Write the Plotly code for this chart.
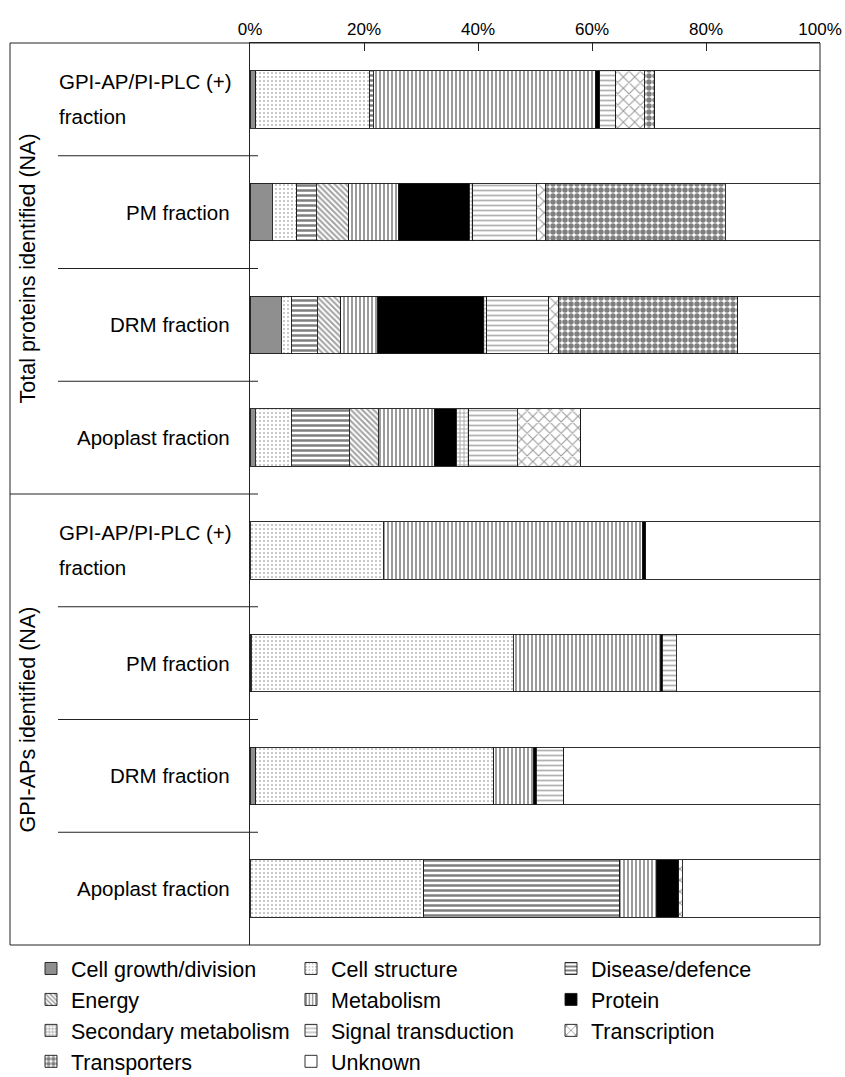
import plotly.graph_objects as go

rows = [0, 1, 2, 3, 4, 5, 6, 7]
row_labels = ["GPI-AP/PI-PLC (+)|fraction", "PM fraction", "DRM fraction", "Apoplast fraction",
              "GPI-AP/PI-PLC (+)|fraction", "PM fraction", "DRM fraction", "Apoplast fraction"]
group_titles = ["Total proteins identified (NA)", "GPI-APs identified (NA)"]
tick_vals = [0, 20, 40, 60, 80, 100]
tick_text = ["0%", "20%", "40%", "60%", "80%", "100%"]

categories = ["Cell growth/division", "Cell structure", "Disease/defence", "Energy", "Metabolism",
              "Protein", "Secondary metabolism", "Signal transduction", "Transcription",
              "Transporters", "Unknown"]

cell_growth    = [1.0, 3.9, 5.5, 0.9, None, 0.2, 1.0, None]
cell_structure = [19.9, 4.3, 1.7, 6.3, 23.4, 46.0, 41.8, 30.5]
disease        = [0.7, 3.4, 4.6, 10.2, None, None, None, 34.4]
energy         = [None, 5.7, 4.1, 5.1, None, None, None, None]
metabolism     = [39.0, 8.8, 6.5, 9.8, 45.5, 25.9, 7.0, 6.4]
protein        = [0.8, 12.4, 18.6, 3.9, 0.5, 0.2, 0.4, 3.9]
secondary      = [None, 0.6, 0.5, 2.2, None, None, None, None]
signal         = [2.8, 11.1, 10.9, 8.5, None, 2.5, 4.8, None]
transcription  = [5.0, 1.6, 1.7, 11.1, None, None, None, 0.6]
transporters   = [1.8, 31.6, 31.5, None, None, None, None, None]
unknown        = [29.0, 16.6, 14.4, 42.0, 30.6, 25.2, 45.0, 24.2]

series = [cell_growth, cell_structure, disease, energy, metabolism, protein,
          secondary, signal, transcription, transporters, unknown]

styles = [
    dict(color="#8f8f8f"),
    dict(color="white", pattern=dict(shape=".", fgcolor="#6e6e6e", bgcolor="white", size=4, solidity=0.2)),
    dict(color="white", pattern=dict(shape="-", fgcolor="#000000", bgcolor="white", size=5, solidity=0.5)),
    dict(color="white", pattern=dict(shape="\\", fgcolor="#444444", bgcolor="white", size=4, solidity=0.5)),
    dict(color="white", pattern=dict(shape="|", fgcolor="#222222", bgcolor="white", size=4, solidity=0.45)),
    dict(color="black"),
    dict(color="white", pattern=dict(shape="+", fgcolor="#333333", bgcolor="white", size=4, solidity=0.35)),
    dict(color="white", pattern=dict(shape="-", fgcolor="#666666", bgcolor="white", size=5, solidity=0.35)),
    dict(color="white", pattern=dict(shape="x", fgcolor="#333333", bgcolor="white", size=8, solidity=0.25)),
    dict(color="white", pattern=dict(shape=".", fgcolor="#000000", bgcolor="white", size=6, solidity=0.66)),
    dict(color="white"),
]

fig = go.Figure()
for name, vals, st in zip(categories, series, styles):
    m = dict(st)
    m["line"] = dict(color="#1a1a1a", width=0.9)
    fig.add_trace(go.Bar(x=vals, y=rows, orientation="h", name=name, marker=m, width=0.51))

W, H = 845, 1077
L, R = 250, 845 - 820
T = 43
B = H - 945
pw = W - L - R
ph = H - T - B

def rx(p):
    return (p - L) / pw

def ry(p):
    return (H - B - p) / ph

line_col = "#222222"
shapes = []
shapes.append(dict(type="line", xref="paper", yref="paper", x0=rx(10), x1=1, y0=1, y1=1,
                   line=dict(color=line_col, width=1)))
shapes.append(dict(type="line", xref="paper", yref="paper", x0=rx(10), x1=1, y0=0, y1=0,
                   line=dict(color=line_col, width=1)))
shapes.append(dict(type="line", xref="paper", yref="paper", x0=rx(10), x1=rx(10), y0=0, y1=1,
                   line=dict(color=line_col, width=1)))
shapes.append(dict(type="line", xref="paper", yref="paper", x0=1, x1=1, y0=0, y1=1,
                   line=dict(color=line_col, width=1)))
for b in [0.5, 1.5, 2.5, 4.5, 5.5, 6.5]:
    shapes.append(dict(type="line", xref="paper", yref="y", x0=rx(58), x1=rx(258), y0=b, y1=b,
                       line=dict(color=line_col, width=1)))
shapes.append(dict(type="line", xref="paper", yref="y", x0=rx(10), x1=rx(258), y0=3.5, y1=3.5,
                   line=dict(color=line_col, width=1)))

font_family = "Arial, Liberation Sans, sans-serif"
lab_size = 20.5
annotations = []
for r, lab in zip(rows, row_labels):
    if "|" in lab:
        l1, l2 = lab.split("|")
        annotations.append(dict(xref="paper", yref="y", x=rx(57), y=r - 0.155, text=l1,
                                xanchor="left", yanchor="middle", showarrow=False,
                                font=dict(size=lab_size, color="black", family=font_family)))
        annotations.append(dict(xref="paper", yref="y", x=rx(57), y=r + 0.155, text=l2,
                                xanchor="left", yanchor="middle", showarrow=False,
                                font=dict(size=lab_size, color="black", family=font_family)))
    else:
        annotations.append(dict(xref="paper", yref="y", x=rx(232), y=r, text=lab,
                                xanchor="right", yanchor="middle", showarrow=False,
                                font=dict(size=lab_size, color="black", family=font_family)))
for gy, gt in zip([1.5, 5.5], group_titles):
    annotations.append(dict(xref="paper", yref="y", x=rx(27), y=gy, text=gt, textangle=-90,
                            xanchor="center", yanchor="middle", showarrow=False,
                            font=dict(size=21.5, color="black", family=font_family)))

fig.update_layout(
    width=W, height=H,
    margin=dict(l=L, r=R, t=T, b=B, pad=0, autoexpand=False),
    barmode="stack",
    plot_bgcolor="white", paper_bgcolor="white",
    font=dict(family=font_family, color="black"),
    shapes=shapes,
    annotations=annotations,
    showlegend=True,
    legend=dict(orientation="h", x=rx(31), xanchor="left", y=ry(948), yanchor="top",
                entrywidth=215, entrywidthmode="pixels", traceorder="normal",
                font=dict(size=21.5, color="black", family=font_family),
                bgcolor="rgba(0,0,0,0)", borderwidth=0),
    xaxis=dict(side="top", range=[0, 100], tickvals=tick_vals, ticktext=tick_text,
               ticks="inside", ticklen=8, tickcolor=line_col, tickwidth=1,
               showgrid=False, zeroline=False, showline=True, linecolor=line_col, linewidth=1,
               tickfont=dict(size=17, color="black", family=font_family), fixedrange=True),
    yaxis=dict(range=[7.5, -0.5], showticklabels=False, ticks="", showgrid=False, zeroline=False,
               showline=True, linecolor=line_col, linewidth=1, fixedrange=True),
)

fig.write_html("out.html", config={"displayModeBar": False},
               post_script="document.body.style.margin='0';document.body.style.overflow='hidden';")
